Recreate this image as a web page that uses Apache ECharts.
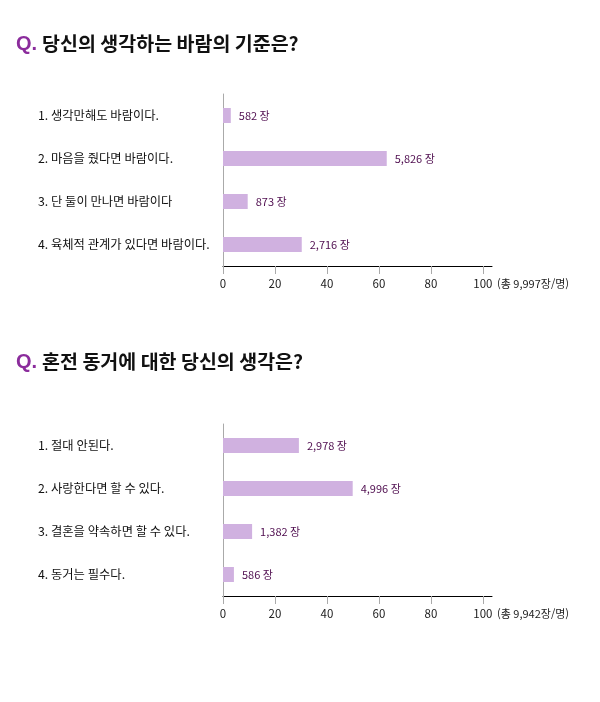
<!DOCTYPE html>
<html lang="ko">
  <head>
    <meta charset="UTF-8" />
    <title>바람의 기준 / 혼전 동거</title>
    <script src="https://cdn.jsdelivr.net/npm/echarts@6/dist/echarts.min.js"></script>
    <style>
      body { margin: 0; background: #fff; }
    </style>
  </head>
  <body>
    <div id="main" style="width: 600px; height: 702px"></div>
    <script type="text/javascript">
      // question 1
      const q1Title = "당신의 생각하는 바람의 기준은?";
      const q1Items = [
        "1. 생각만해도 바람이다.",
        "2. 마음을 줬다면 바람이다.",
        "3. 단 둘이 만나면 바람이다",
        "4. 육체적 관계가 있다면 바람이다."
      ];
      const q1Percent = [3, 63, 9.5, 30.3]; // bar lengths as drawn
      const q1Counts = ["582", "5,826", "873", "2,716"];
      const q1Total = "(총 9,997장/명)";

      // question 2
      const q2Title = "혼전 동거에 대한 당신의 생각은?";
      const q2Items = [
        "1. 절대 안된다.",
        "2. 사랑한다면 할 수 있다.",
        "3. 결혼을 약속하면 할 수 있다.",
        "4. 동거는 필수다."
      ];
      const q2Percent = [29.2, 49.9, 11.2, 4.2];
      const q2Counts = ["2,978", "4,996", "1,382", "586"];
      const q2Total = "(총 9,942장/명)";

      const ticks = [0, 20, 40, 60, 80, 100];

      const font = "'Noto Sans CJK KR', sans-serif";
      const barColor = "#d0b1e0";

      var myChart = echarts.init(document.getElementById("main"));

      function makeTitle(text, top) {
        return {
          left: 16,
          top: top,
          padding: 0,
          text: "{q|Q.} {t|" + text + "}",
          textStyle: {
            rich: {
              q: { fontFamily: "'Liberation Sans', Arial, sans-serif", fontSize: 20, color: "#8b2c9c", lineHeight: 24 },
              t: { fontFamily: font, fontSize: 19.5, fontWeight: "bold", color: "#111", lineHeight: 24 }
            }
          }
        };
      }

      function makeX(gridIndex, total) {
        return {
          gridIndex: gridIndex,
          type: "value",
          min: 0,
          max: 103.5,
          interval: 20,
          name: total,
          nameLocation: "end",
          nameGap: 5,
          nameTextStyle: { fontFamily: font, fontSize: 11, color: "#222", verticalAlign: "top", padding: [12, 0, 0, 0] },
          axisLine: { show: true, lineStyle: { color: "#000", width: 1 } },
          axisTick: { show: true, length: 8, lineStyle: { color: "#aaa" }, customValues: ticks },
          axisLabel: { fontFamily: font, fontSize: 11.5, color: "#222", margin: 12, customValues: ticks },
          splitLine: { show: false }
        };
      }

      function makeY(gridIndex, items) {
        return {
          gridIndex: gridIndex,
          type: "category",
          inverse: true,
          data: items,
          axisLine: { show: true, lineStyle: { color: "#aaa" } },
          axisTick: { show: false },
          axisLabel: { align: "left", margin: 185, fontFamily: font, fontSize: 12.3, color: "#111" }
        };
      }

      function makeBars(idx, values, counts) {
        return {
          type: "bar",
          xAxisIndex: idx,
          yAxisIndex: idx,
          data: values,
          barWidth: 15,
          itemStyle: { color: barColor },
          label: {
            show: true,
            position: "right",
            distance: 8,
            fontFamily: font,
            fontSize: 11,
            color: "#4e0c4e",
            formatter: (p) => counts[p.dataIndex] + " 장"
          }
        };
      }

      var option = {
        backgroundColor: "#fff",
        animation: false,
        title: [makeTitle(q1Title, 32), makeTitle(q2Title, 350)],
        grid: [
          { left: 223, right: 108, top: 94, height: 172 },
          { left: 223, right: 108, top: 424, height: 172 }
        ],
        xAxis: [makeX(0, q1Total), makeX(1, q2Total)],
        yAxis: [makeY(0, q1Items), makeY(1, q2Items)],
        series: [makeBars(0, q1Percent, q1Counts), makeBars(1, q2Percent, q2Counts)]
      };

      myChart.setOption(option);
    </script>
  </body>
</html>
